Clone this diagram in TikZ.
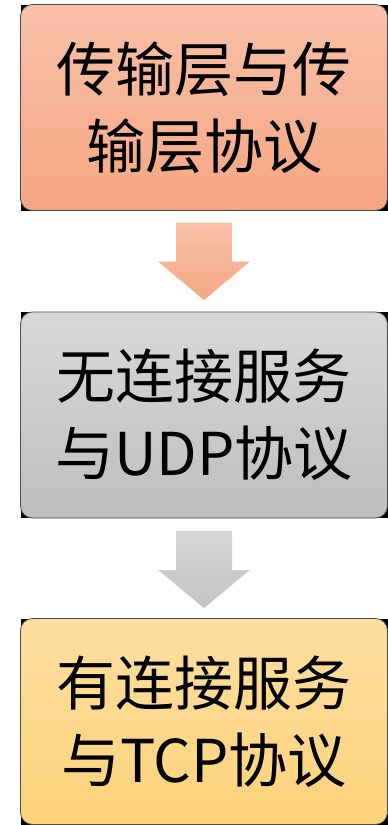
\documentclass[tikz,border=0pt]{standalone}
\usepackage{fontspec}
\newfontfamily\cjk{Noto Sans CJK SC}
\usetikzlibrary{calc,backgrounds}
\definecolor{oTop}{RGB}{248,193,168}
\definecolor{oBot}{RGB}{246,166,130}
\definecolor{gTop}{RGB}{216,216,216}
\definecolor{gBot}{RGB}{190,190,190}
\definecolor{yTop}{RGB}{254,222,160}
\definecolor{yBot}{RGB}{254,210,122}
\definecolor{aoTop}{RGB}{247,192,168}
\definecolor{aoBot}{RGB}{245,168,132}
\definecolor{agTop}{RGB}{214,214,214}
\definecolor{agBot}{RGB}{194,194,194}
\begin{document}
\begin{tikzpicture}[x=1pt,y=-1pt,
  box/.style={draw=black!70, line width=0.8pt, rounded corners=12pt,
    minimum width=367pt, minimum height=206pt, inner sep=0pt, outer sep=0pt,
    align=center, font=\cjk\fontsize{59}{77}\selectfont},
  blockarrow/.style={draw=none}]
\useasboundingbox (0,0) rectangle (388,825);
\node[box, top color=oTop, bottom color=oBot] (b1) at (204,107.5) {传输层与传\\输层协议};
\node[box, top color=gTop, bottom color=gBot] (b2) at (204,415) {无连接服务\\与UDP协议};
\node[box, top color=yTop, bottom color=yBot] (b3) at (204,721.5) {有连接服务\\与TCP协议};
\begin{scope}[on background layer]
  \fill[black] (b1.north west) rectangle (b1.south east);
  \fill[black] (b2.north west) rectangle (b2.south east);
  \fill[black] (b3.north west) rectangle (b3.south east);
\end{scope}
\shade[blockarrow, top color=aoTop, bottom color=aoBot]
  ($(b1.south)+(-28,12)$) -- ($(b1.south)+(28,12)$) -- ($(b1.south)+(28,51)$)
  -- ($(b1.south)+(46,51)$) -- ($(b2.north)+(0,-12)$) -- ($(b1.south)+(-46,51)$)
  -- ($(b1.south)+(-28,51)$) -- cycle;
\shade[blockarrow, top color=agTop, bottom color=agBot]
  ($(b2.south)+(-28,13)$) -- ($(b2.south)+(28,13)$) -- ($(b2.south)+(28,52)$)
  -- ($(b2.south)+(46,52)$) -- ($(b3.north)+(0,-10.5)$) -- ($(b2.south)+(-46,52)$)
  -- ($(b2.south)+(-28,52)$) -- cycle;
\end{tikzpicture}
\end{document}
